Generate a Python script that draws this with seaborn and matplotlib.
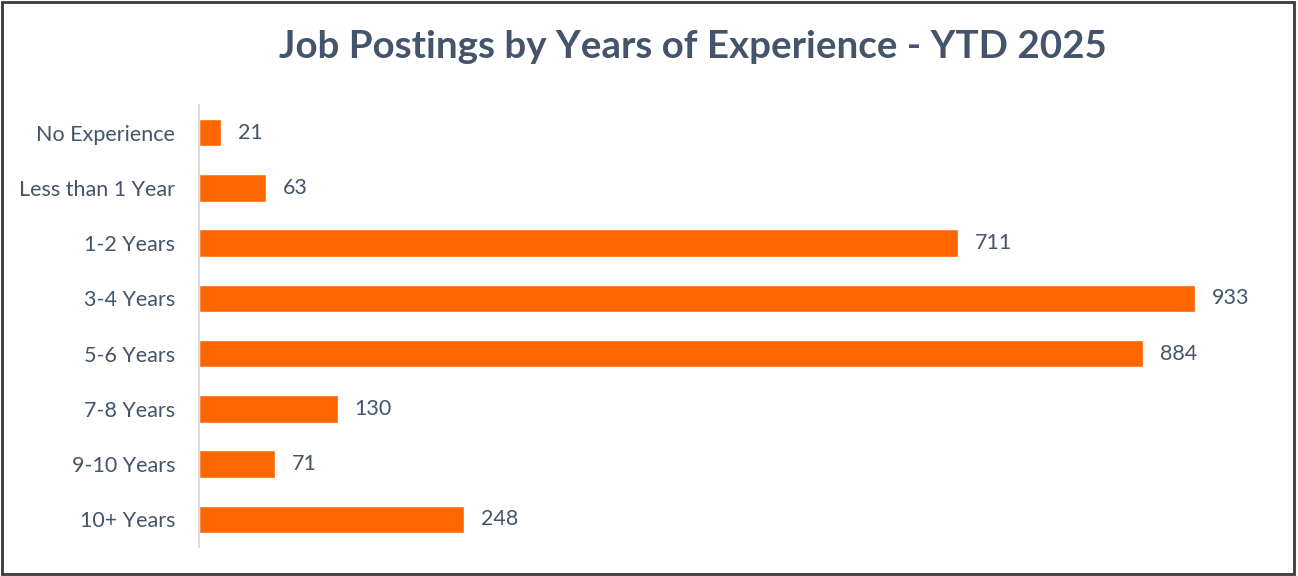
import matplotlib
matplotlib.use("Agg")
import matplotlib.pyplot as plt
import seaborn as sns
import pandas as pd
from matplotlib.patches import Rectangle

categories = ["No Experience", "Less than 1 Year", "1-2 Years", "3-4 Years",
              "5-6 Years", "7-8 Years", "9-10 Years", "10+ Years"]
postings = [21, 63, 711, 933, 884, 130, 71, 248]

df = pd.DataFrame({"experience": categories, "postings": postings})

sns.set_theme(style="white")
plt.rcParams["font.family"] = ["Lato", "DejaVu Sans"]

TEXT = "#44546A"
BAR = "#FF6600"

fig = plt.figure(figsize=(12.98, 5.76), dpi=100)
ax = fig.add_axes([0.1533, 0.0503, 0.8228, 0.7674])

sns.barplot(data=df, x="postings", y="experience", orient="h",
            color=BAR, saturation=1, width=0.5, ax=ax)

ax.set_xlim(0, 1000)
ax.set_ylim(len(categories) - 0.5, -0.5)
ax.set_xlabel("")
ax.set_ylabel("")
ax.set_xticks([])
ax.tick_params(axis="y", length=0, pad=17, labelsize=15.5, labelcolor=TEXT)

for side in ["top", "right", "bottom"]:
    ax.spines[side].set_visible(False)
ax.spines["left"].set_color("#D9DEE6")
ax.spines["left"].set_linewidth(1.5)

for container in ax.containers:
    ax.bar_label(container, labels=[str(v) for v in postings], padding=12,
                 fontsize=15.5, color=TEXT)

fig.text(0.534, 0.918, "Job Postings by Years of Experience - YTD 2025",
         ha="center", va="center", fontsize=27.7, fontweight="bold", color=TEXT)

# thin dark frame around the whole chart
fig.patches.append(Rectangle((0.0015, 0.003), 0.9955, 0.994, transform=fig.transFigure,
                             fill=False, edgecolor="#3A3A3A", linewidth=2))

fig.savefig("out.png", dpi=100, facecolor="white")
